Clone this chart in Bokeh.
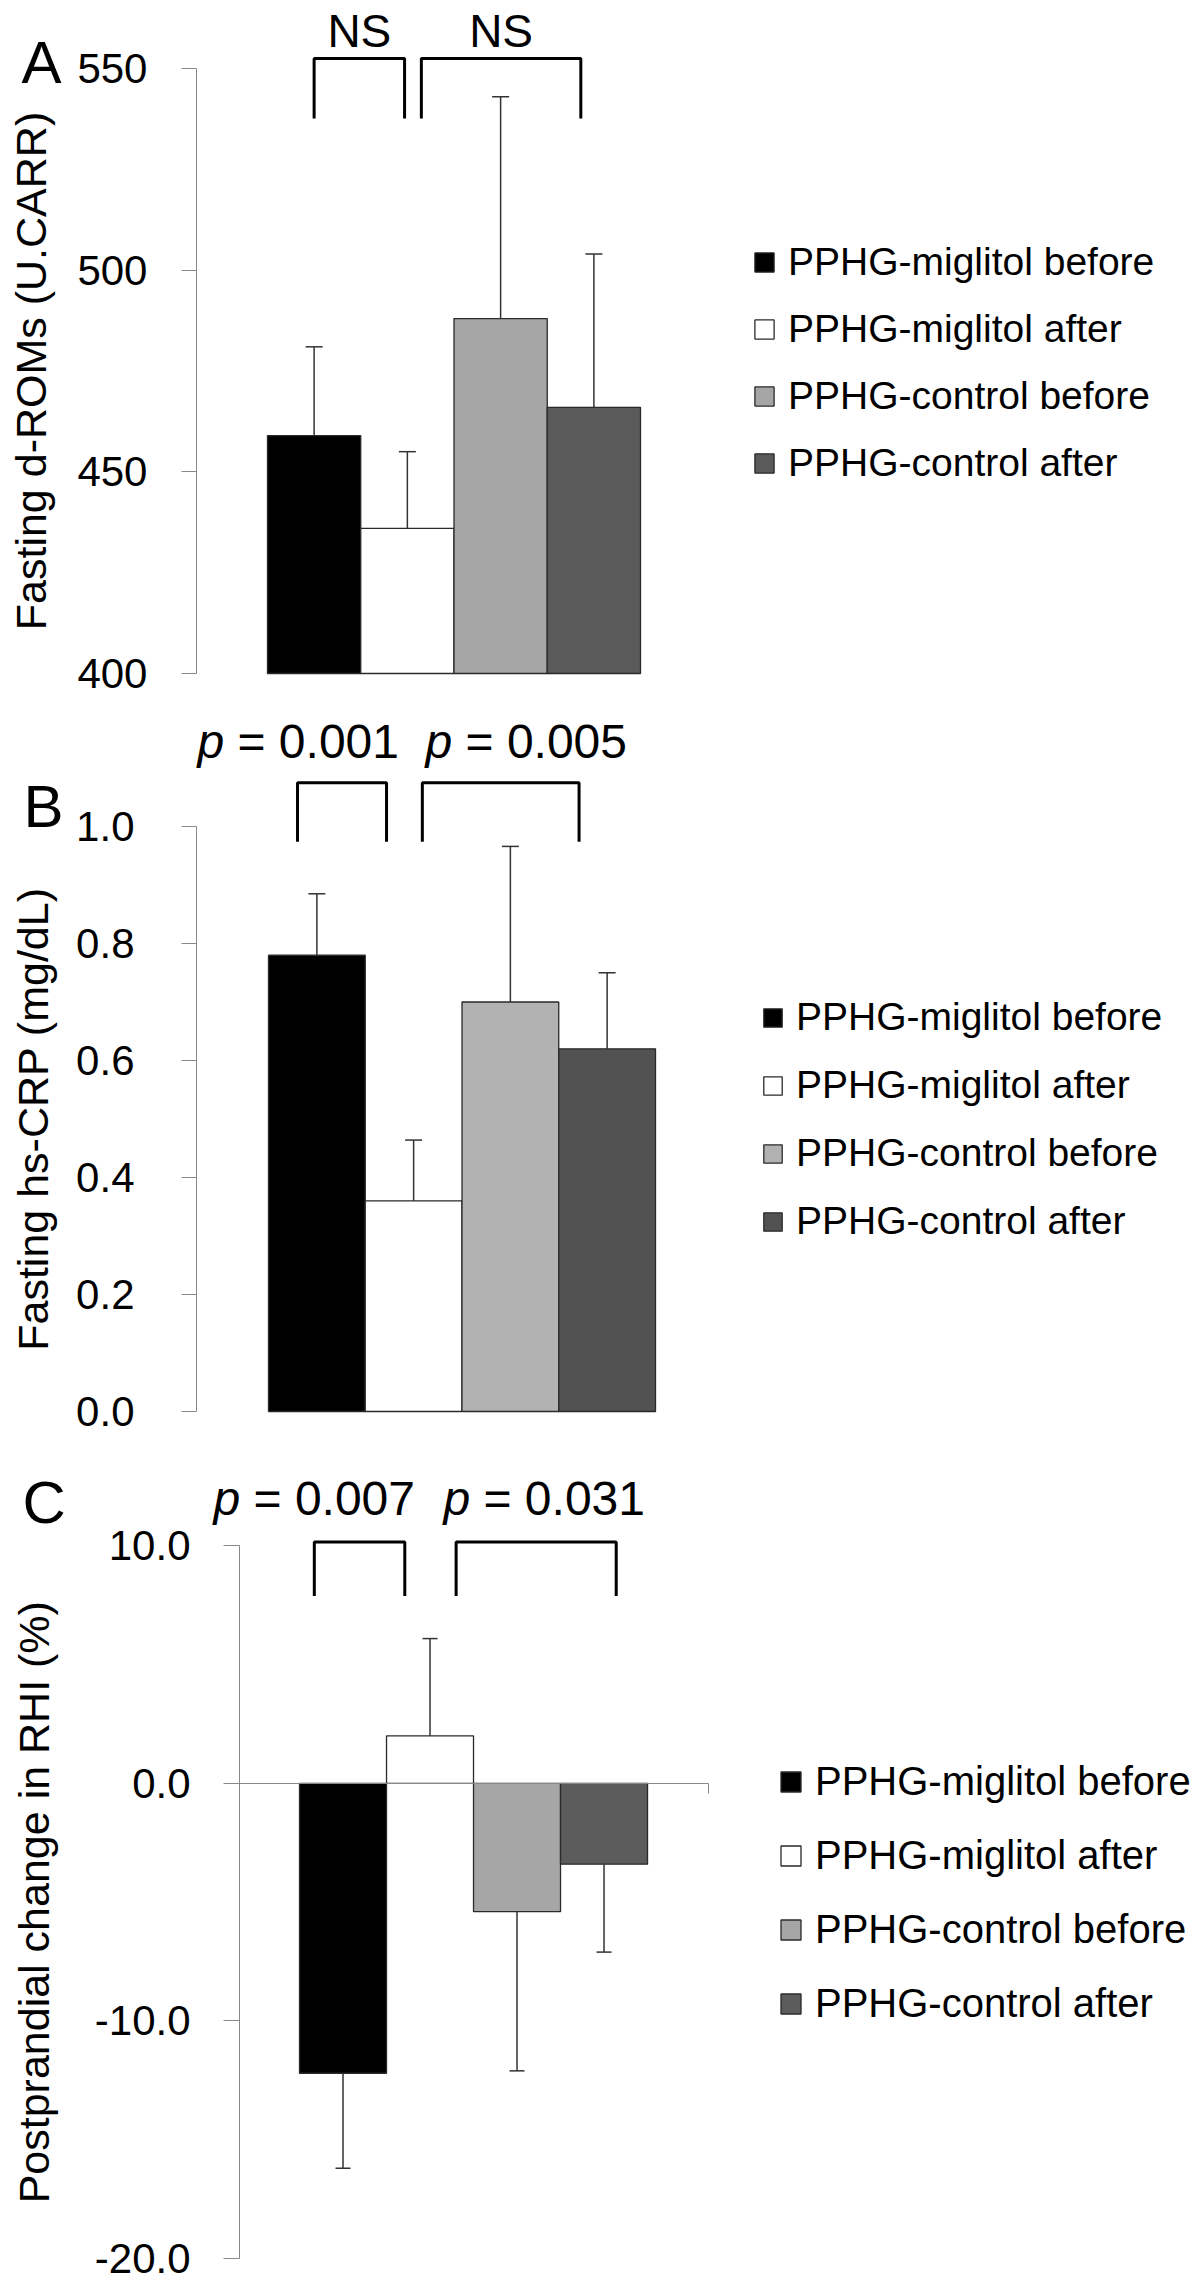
from bokeh.plotting import figure
from bokeh.layouts import column
from bokeh.models import (ColumnDataSource, FixedTicker, PrintfTickFormatter,
                          Legend, LegendItem, Label, Range1d, LinearAxis)
from bokeh.embed import file_html
from bokeh.resources import INLINE

# ---------------- data ----------------
categories = ["PPHG-miglitol before", "PPHG-miglitol after",
              "PPHG-control before", "PPHG-control after"]

droms_mean = [459, 436, 488, 466]          # Fasting d-ROMs (U.CARR)
droms_err = [22, 19, 55, 38]

crp_mean = [0.78, 0.36, 0.70, 0.62]        # Fasting hs-CRP (mg/dL)
crp_err = [0.105, 0.104, 0.266, 0.13]

rhi_mean = [-12.2, 2.0, -5.4, -3.4]        # Postprandial change in RHI (%)
rhi_err = [4.0, 4.1, 6.7, 3.7]

droms_ticks = [400, 450, 500, 550]
crp_ticks = [0.0, 0.2, 0.4, 0.6, 0.8, 1.0]
rhi_ticks = [-20.0, -10.0, 0.0, 10.0]

# ---------------- styles ----------------
FONT = "Liberation Sans"
AXIS_GRAY = "#888888"
colors_A = ["#000000", "#FFFFFF", "#A6A6A6", "#5A5A5A"]
colors_B = ["#000000", "#FFFFFF", "#B2B2B2", "#525252"]
colors_C = ["#000000", "#FFFFFF", "#A6A6A6", "#5C5C5C"]


def panel(mean, err, base, xr, yr, axis_x, yticks, fmt, ybounds, ylabel, ylabel_x,
          colors, height, tick_out, tick_standoff,
          legend_loc, legend_font, legend_item_h, legend_spacing, legend_glyph, cap):
    p = figure(width=1200, height=height, x_range=Range1d(*xr), y_range=Range1d(*yr),
               output_backend="svg", toolbar_location=None, x_axis_location=None,
               min_border_left=0, min_border_right=0, min_border_top=0,
               min_border_bottom=0)
    p.grid.visible = False
    p.outline_line_color = None
    idx = list(range(len(categories)))
    end = [m + (e if m >= base else -e) for m, e in zip(mean, err)]
    src = ColumnDataSource(dict(x=idx, top=mean, bottom=[base] * len(mean),
                                end=end, color=colors))
    r = p.vbar(x="x", top="top", bottom="bottom", width=1.0, fill_color="color",
               line_color="#2a2a2a", line_width=1.3, source=src)
    p.segment(x0="x", y0="top", x1="x", y1="end", line_color="#333333",
              line_width=1.5, source=src)
    p.scatter(x="x", y="end", marker="dash", size=cap, line_color="#333333",
              line_width=1.5, source=src)

    ax = p.yaxis[0]
    ax.fixed_location = axis_x
    ax.ticker = FixedTicker(ticks=yticks)
    ax.formatter = PrintfTickFormatter(format=fmt)
    ax.bounds = ybounds
    ax.axis_line_color = AXIS_GRAY
    ax.major_tick_line_color = AXIS_GRAY
    ax.minor_tick_line_color = None
    ax.major_tick_out = tick_out
    ax.major_tick_in = 0
    ax.major_label_standoff = tick_standoff
    ax.major_label_text_font = FONT
    ax.major_label_text_font_size = "42px"
    ax.major_label_text_color = "#000000"

    # y-axis title, centred on the axis span
    p.add_layout(Label(x=ylabel_x, y=(ybounds[0] + ybounds[1]) / 2, text=ylabel,
                       angle=90, angle_units="deg", text_font=FONT,
                       text_font_size="43px", text_color="#000000",
                       text_align="center", text_baseline="middle"))

    items = [LegendItem(label=c, renderers=[r], index=i) for i, c in enumerate(categories)]
    leg = Legend(items=items, location=legend_loc, orientation="vertical",
                 label_text_font=FONT, label_text_font_size=legend_font,
                 label_text_color="#000000", glyph_width=legend_glyph,
                 glyph_height=legend_glyph, label_height=legend_item_h,
                 spacing=legend_spacing, padding=0, margin=0,
                 label_standoff=12, border_line_color=None,
                 background_fill_alpha=0)
    p.add_layout(leg)
    return p


def brackets(p, pairs, ybot, ytop):
    xs = [[a, a, b, b] for a, b in pairs]
    ys = [[ybot, ytop, ytop, ybot] for _ in pairs]
    p.multi_line(xs=xs, ys=ys, line_color="#000000", line_width=3)


def ptext(p, x, y, value):
    p.add_layout(Label(x=x, y=y, text="p", text_font=FONT, text_font_size="48px",
                       text_font_style="italic", text_color="#000000",
                       text_align="left", text_baseline="middle"))
    p.add_layout(Label(x=x, y=y, x_offset=40, text="= " + value, text_font=FONT,
                       text_font_size="48px", text_color="#000000",
                       text_align="left", text_baseline="middle"))


def letter(p, x, y, t):
    p.add_layout(Label(x=x, y=y, text=t, text_font=FONT, text_font_size="60px",
                       text_color="#000000", text_align="left",
                       text_baseline="middle"))


# ---------------- panel A ----------------
pA = panel(droms_mean, droms_err, 400, (-3.363, 9.505), (393.31, 566.86), -1.2614,
           droms_ticks, "%d", (400, 550), "Fasting d-ROMs (U.CARR)", -3.031, colors_A,
           height=700, tick_out=15, tick_standoff=34,
           legend_loc=(752, 214), legend_font="39px",
           legend_item_h=46, legend_spacing=21, legend_glyph=24, cap=17)
brackets(pA, [(0.0, 0.97), (1.15, 2.86)], 537.6, 552.5)
for xc in [0.485, 2.005]:
    pA.add_layout(Label(x=xc, y=559.4, text="NS", text_font=FONT, text_font_size="46px",
                        text_color="#000000", text_align="center",
                        text_baseline="middle"))
letter(pA, -3.138, 551.6, "A")

# ---------------- panel B ----------------
pB = panel(crp_mean, crp_err, 0.0, (-3.270, 9.133), (-0.04957, 1.2154), -1.2442,
           crp_ticks, "%.1f", (0.0, 1.0), "Fasting hs-CRP (mg/dL)", -2.93, colors_B,
           height=740, tick_out=15, tick_standoff=47,
           legend_loc=(761, 196), legend_font="39px",
           legend_item_h=46, legend_spacing=22, legend_glyph=23, cap=17)
brackets(pB, [(-0.2, 0.72), (1.09, 2.71)], 0.974, 1.075)
ptext(pB, -1.234, 1.1453, "0.001")
ptext(pB, 1.123, 1.1453, "0.005")
letter(pB, -3.032, 1.035, "B")

# ---------------- panel C ----------------
pC = panel(rhi_mean, rhi_err, 0.0, (-3.937, 9.856), (-21.053, 14.44), -1.1897,
           rhi_ticks, "%.1f", (-20.0, 10.0), "Postprandial change in RHI (%)", -3.557,
           colors_C, height=843, tick_out=16, tick_standoff=33,
           legend_loc=(778, 256), legend_font="40px",
           legend_item_h=48, legend_spacing=26, legend_glyph=25, cap=15)
# zero-level category axis of panel C
xax = LinearAxis(fixed_location=0.0, bounds=(-1.1897, 4.2011),
                 ticker=FixedTicker(ticks=[4.2011]),
                 major_label_overrides={4.2011: ""},
                 axis_line_color=AXIS_GRAY, major_tick_line_color=AXIS_GRAY,
                 major_tick_out=10, major_tick_in=0, minor_tick_line_color=None)
pC.add_layout(xax, "below")
brackets(pC, [(-0.33, 0.71), (1.30, 3.14)], 7.89, 10.17)
ptext(pC, -1.4885, 12.0, "0.007")
ptext(pC, 1.155, 12.0, "0.031")
letter(pC, -3.684, 11.85, "C")

layout = column(pA, pB, pC, spacing=0)
open("out.html", "w").write(file_html(layout, INLINE))
